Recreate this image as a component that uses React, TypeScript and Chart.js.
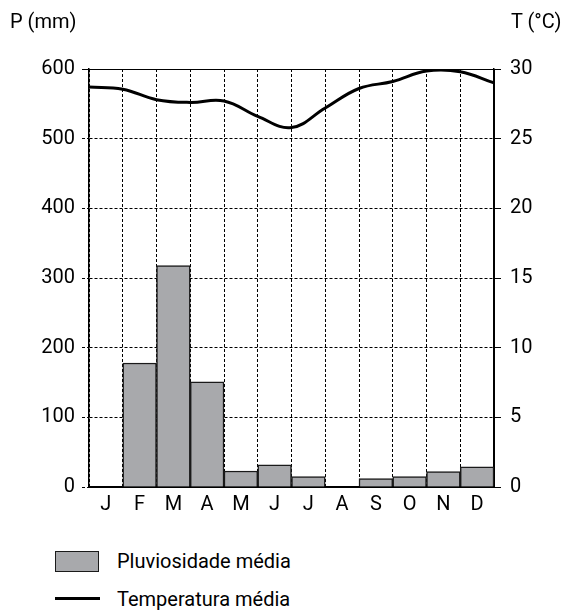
import React, { useEffect, useRef } from "react";
import { Chart, registerables } from "chart.js";

Chart.register(...registerables);

const months = ["J", "F", "M", "A", "M", "J", "J", "A", "S", "O", "N", "D"];
const rainfall = [0, 178, 318, 151, 23, 32, 15, 0, 12, 15, 22, 29];
const tempPositions = [0, 1, 2, 3, 4, 5, 6, 7, 8, 9, 10, 11, 12];
const temperature = [28.7, 28.55, 27.8, 27.6, 27.7, 26.6, 25.8, 27.2, 28.6, 29.1, 29.85, 29.8, 29.0];
const precipRange = [0, 600];
const tempRange = [0, 30];
const precipStep = 100;
const tempStep = 5;

const FONT_FAMILY = "Roboto, 'Liberation Sans', sans-serif";
const FONT_SIZE = 20;

export default function App() {
  const canvasRef = useRef<HTMLCanvasElement | null>(null);

  useEffect(() => {
    if (!canvasRef.current) return;
    const font = { family: FONT_FAMILY, size: FONT_SIZE };
    const yDash = (c: any) => (c.tick && c.tick.value !== precipRange[1] ? [3, 2] : []);
    const xDash = (c: any) => (c.tick ? [3, 2] : []);
    const chart = new Chart(canvasRef.current, {
      type: "bar",
      data: {
        labels: months,
        datasets: [
          {
            type: "line",
            label: "Temperatura média",
            data: tempPositions.map((x, i) => ({ x, y: temperature[i] })),
            xAxisID: "x2",
            yAxisID: "y1",
            borderColor: "#000",
            borderWidth: 3,
            pointRadius: 0,
            tension: 0.4,
            fill: false,
            order: 1,
          } as any,
          {
            type: "bar",
            label: "Pluviosidade média",
            data: rainfall,
            xAxisID: "x",
            yAxisID: "y",
            backgroundColor: "#a8a9ac",
            borderColor: "#1a1a1a",
            borderWidth: 1.5,
            barPercentage: 1,
            categoryPercentage: 1,
            grouped: false,
            order: 2,
          },
        ],
      },
      options: {
        responsive: false,
        animation: false,
        layout: { padding: { top: 69, left: 0, right: 0, bottom: 0 } },
        plugins: { legend: { display: false }, tooltip: { enabled: false } },
        scales: {
          x: {
            type: "category",
            offset: true,
            grid: { offset: true, color: "#000", lineWidth: 1, drawTicks: false },
            border: { display: true, color: "#000", width: 2, dash: xDash } as any,
            ticks: { color: "#000", font, padding: 6 },
            afterFit: (s: any) => {
              s.height = 43;
            },
          },
          x2: {
            type: "linear",
            min: 0,
            max: 12,
            offset: false,
            display: false,
            grid: { offset: false },
          },
          y: {
            type: "linear",
            position: "left",
            min: precipRange[0],
            max: precipRange[1],
            ticks: { stepSize: precipStep, color: "#000", font, padding: 7 },
            grid: {
              color: "#000",
              lineWidth: 1,
              tickLength: 7,
              tickColor: "#000",
              tickBorderDash: yDash,
            } as any,
            border: { display: true, color: "#000", width: 1.5, dash: yDash } as any,
            afterFit: (s: any) => {
              s.width = 89;
            },
          },
          y1: {
            type: "linear",
            position: "right",
            min: tempRange[0],
            max: tempRange[1],
            ticks: { stepSize: tempStep, color: "#000", font, padding: 9 },
            grid: { drawOnChartArea: false, color: "#000", tickLength: 7, tickColor: "#000" },
            border: { display: true, color: "#000", width: 1.5 },
            afterFit: (s: any) => {
              s.width = 71;
            },
          },
        },
      },
    });
    return () => chart.destroy();
  }, []);

  const textStyle: React.CSSProperties = {
    position: "absolute",
    fontFamily: FONT_FAMILY,
    fontSize: FONT_SIZE,
    lineHeight: "24px",
    color: "#000",
    whiteSpace: "nowrap",
  };

  return (
    <div style={{ position: "absolute", left: 0, top: 0, width: 565, height: 612, background: "#fff" }}>
      <canvas ref={canvasRef} width={565} height={530} style={{ position: "absolute", left: 0, top: 0 }} />
      <div style={{ ...textStyle, left: 10, top: 9 }}>P (mm)</div>
      <div style={{ ...textStyle, left: 511, top: 9 }}>T (°C)</div>
      <div
        style={{
          position: "absolute",
          left: 55,
          top: 551,
          width: 42,
          height: 19,
          background: "#a8a9ac",
          border: "1.5px solid #1a1a1a",
        }}
      />
      <div style={{ ...textStyle, left: 117, top: 549 }}>Pluviosidade média</div>
      <div style={{ position: "absolute", left: 55, top: 597, width: 45, height: 3, background: "#000" }} />
      <div style={{ ...textStyle, left: 117, top: 587 }}>Temperatura média</div>
    </div>
  );
}
